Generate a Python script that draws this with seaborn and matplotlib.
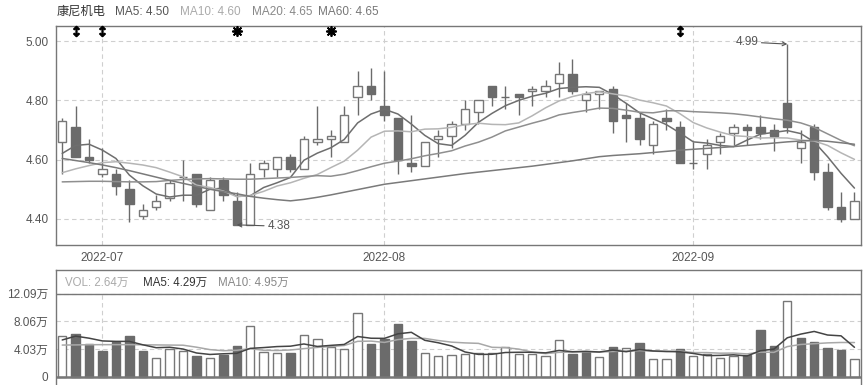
import numpy as np
import pandas as pd
import matplotlib
matplotlib.use('Agg')
import matplotlib.pyplot as plt
import seaborn as sns

stock_name = '康尼机电'
# trading days 2022-06-28 .. 2022-09-20 (Mid-Autumn holiday on 09-12)
dates = pd.bdate_range('2022-06-28', '2022-09-20').drop(pd.Timestamp('2022-09-12'))

open_ = [4.66, 4.71, 4.61, 4.55, 4.55, 4.50, 4.41, 4.44, 4.47, 4.54,
         4.55, 4.43, 4.53, 4.46, 4.38, 4.57, 4.57, 4.61, 4.57, 4.66,
         4.67, 4.66, 4.81, 4.85, 4.78, 4.74, 4.59, 4.58, 4.67, 4.68,
         4.72, 4.76, 4.85, 4.81, 4.82, 4.83, 4.83, 4.86, 4.89, 4.80,
         4.82, 4.84, 4.75, 4.74, 4.65, 4.74, 4.71, 4.59, 4.62, 4.66,
         4.69, 4.71, 4.71, 4.70, 4.79, 4.64, 4.71, 4.56, 4.44, 4.40]
high = [4.74, 4.78, 4.67, 4.64, 4.57, 4.53, 4.45, 4.48, 4.53, 4.60,
        4.55, 4.54, 4.54, 4.49, 4.59, 4.60, 4.61, 4.62, 4.68, 4.78,
        4.70, 4.78, 4.90, 4.91, 4.90, 4.74, 4.75, 4.66, 4.70, 4.73,
        4.80, 4.80, 4.85, 4.85, 4.82, 4.85, 4.87, 4.93, 4.94, 4.83,
        4.83, 4.85, 4.79, 4.76, 4.73, 4.77, 4.73, 4.66, 4.67, 4.69,
        4.72, 4.72, 4.75, 4.72, 4.99, 4.70, 4.72, 4.59, 4.49, 4.49]
low = [4.55, 4.61, 4.59, 4.54, 4.48, 4.39, 4.40, 4.43, 4.46, 4.46,
       4.44, 4.43, 4.46, 4.38, 4.38, 4.54, 4.54, 4.56, 4.57, 4.65,
       4.61, 4.66, 4.75, 4.80, 4.73, 4.55, 4.56, 4.58, 4.61, 4.64,
       4.70, 4.72, 4.78, 4.77, 4.75, 4.78, 4.81, 4.81, 4.82, 4.76,
       4.77, 4.69, 4.66, 4.65, 4.62, 4.70, 4.59, 4.57, 4.57, 4.62,
       4.65, 4.65, 4.67, 4.63, 4.69, 4.59, 4.53, 4.43, 4.39, 4.40]
close = [4.73, 4.61, 4.60, 4.57, 4.51, 4.45, 4.43, 4.46, 4.52, 4.54,
         4.45, 4.53, 4.48, 4.38, 4.55, 4.59, 4.61, 4.57, 4.67, 4.67,
         4.68, 4.75, 4.85, 4.82, 4.75, 4.60, 4.58, 4.66, 4.68, 4.72,
         4.77, 4.80, 4.81, 4.81, 4.81, 4.84, 4.85, 4.89, 4.83, 4.82,
         4.83, 4.73, 4.74, 4.67, 4.72, 4.73, 4.59, 4.59, 4.65, 4.68,
         4.71, 4.70, 4.69, 4.68, 4.71, 4.66, 4.56, 4.44, 4.40, 4.46]

ma5 = [4.621, 4.648, 4.652, 4.632, 4.604, 4.548, 4.512, 4.484, 4.474, 4.480,
       4.480, 4.500, 4.504, 4.476, 4.478, 4.506, 4.522, 4.540, 4.598, 4.622,
       4.640, 4.668, 4.724, 4.754, 4.770, 4.754, 4.720, 4.682, 4.654, 4.648,
       4.682, 4.726, 4.756, 4.782, 4.800, 4.814, 4.824, 4.840, 4.844, 4.846,
       4.844, 4.820, 4.790, 4.758, 4.738, 4.718, 4.690, 4.660, 4.656, 4.648,
       4.644, 4.666, 4.686, 4.692, 4.698, 4.688, 4.660, 4.610, 4.554, 4.504]
ma10 = [4.556, 4.569, 4.580, 4.590, 4.593, 4.588, 4.582, 4.573, 4.558, 4.542,
        4.514, 4.506, 4.494, 4.475, 4.479, 4.493, 4.511, 4.522, 4.537, 4.550,
        4.573, 4.595, 4.632, 4.676, 4.696, 4.697, 4.694, 4.703, 4.704, 4.709,
        4.718, 4.723, 4.719, 4.718, 4.724, 4.748, 4.775, 4.798, 4.813, 4.823,
        4.829, 4.822, 4.815, 4.801, 4.792, 4.781, 4.755, 4.725, 4.707, 4.693,
        4.681, 4.678, 4.673, 4.674, 4.673, 4.666, 4.663, 4.648, 4.623, 4.601]
ma20 = [4.525, 4.526, 4.527, 4.527, 4.526, 4.525, 4.525, 4.526, 4.530, 4.533,
        4.535, 4.536, 4.535, 4.534, 4.534, 4.536, 4.538, 4.540, 4.543, 4.546,
        4.544, 4.551, 4.563, 4.576, 4.588, 4.595, 4.603, 4.613, 4.621, 4.630,
        4.646, 4.659, 4.676, 4.697, 4.710, 4.723, 4.735, 4.751, 4.759, 4.766,
        4.774, 4.773, 4.767, 4.760, 4.758, 4.765, 4.765, 4.762, 4.760, 4.758,
        4.755, 4.750, 4.744, 4.738, 4.733, 4.724, 4.709, 4.687, 4.665, 4.647]
ma60 = [4.604, 4.597, 4.590, 4.582, 4.573, 4.563, 4.552, 4.541, 4.530, 4.520,
        4.510, 4.500, 4.492, 4.485, 4.476, 4.470, 4.465, 4.461, 4.466, 4.473,
        4.481, 4.490, 4.499, 4.508, 4.517, 4.523, 4.529, 4.535, 4.541, 4.547,
        4.553, 4.558, 4.563, 4.568, 4.573, 4.578, 4.584, 4.590, 4.596, 4.603,
        4.610, 4.614, 4.617, 4.620, 4.624, 4.628, 4.632, 4.635, 4.638, 4.641,
        4.644, 4.648, 4.652, 4.656, 4.660, 4.663, 4.665, 4.662, 4.657, 4.652]

# volume in 万
volume = [5.88, 6.21, 4.80, 3.74, 5.05, 5.88, 3.74, 2.67, 4.08, 3.74,
          3.01, 2.67, 3.16, 4.42, 7.33, 3.59, 3.40, 3.45, 6.02, 5.53,
          4.37, 4.08, 9.22, 4.76, 5.44, 7.67, 5.19, 3.40, 2.98, 3.11,
          3.30, 3.40, 3.50, 4.27, 3.30, 3.30, 2.96, 5.29, 3.30, 3.59,
          2.82, 4.32, 4.13, 4.90, 2.53, 2.53, 3.98, 2.96, 3.30, 2.72,
          2.96, 3.11, 6.79, 4.47, 10.97, 5.63, 5.05, 4.18, 3.88, 2.64]
vol_ma5 = [5.34, 5.90, 5.60, 5.20, 5.136, 5.136, 4.642, 4.216, 4.284, 4.022,
           3.448, 3.234, 3.332, 3.400, 4.118, 4.234, 4.380, 4.438, 4.758, 4.398,
           4.554, 4.690, 5.844, 5.592, 5.574, 6.234, 6.456, 5.292, 4.936, 4.470,
           3.596, 3.238, 3.258, 3.516, 3.554, 3.554, 3.466, 3.824, 3.630, 3.688,
           3.592, 3.864, 3.632, 3.952, 3.740, 3.682, 3.614, 3.380, 3.060, 3.098,
           3.184, 3.010, 3.776, 4.010, 5.660, 6.194, 6.582, 6.060, 5.942, 4.276]
vol_ma10 = [4.60, 4.62, 4.65, 4.66, 4.66, 4.66, 4.64, 4.62, 4.60, 4.579,
            4.292, 3.938, 3.774, 3.842, 4.070, 3.841, 3.807, 3.885, 4.079, 4.258,
            4.394, 4.535, 5.141, 5.175, 4.986, 5.394, 5.573, 5.568, 5.264, 5.022,
            4.915, 4.847, 4.275, 4.226, 4.012, 3.575, 3.352, 3.541, 3.573, 3.621,
            3.573, 3.665, 3.728, 3.791, 3.714, 3.637, 3.739, 3.506, 3.506, 3.419,
            3.433, 3.312, 3.578, 3.535, 4.379, 4.689, 4.796, 4.918, 4.976, 4.968]

arrow_events = [1, 3, 46]
star_events = [13, 20]

price_ticks = [4.40, 4.60, 4.80, 5.00]
vol_ticks = [0, 4.03, 8.06, 12.09]
vol_tick_labels = ['0', '4.03万', '8.06万', '12.09万']

price_header = [('MA5: 4.50', '#555555', 115), ('MA10: 4.60', '#aaaaaa', 180),
                ('MA20: 4.65', '#888888', 252), ('MA60: 4.65', '#777777', 318)]
vol_header = [('VOL: 2.64万', '#aaaaaa', 65), ('MA5: 4.29万', '#333333', 143),
              ('MA10: 4.95万', '#888888', 218)]

sns.set_theme(style='white')
plt.rcParams['font.family'] = ['Liberation Sans', 'Noto Sans CJK SC', 'DejaVu Sans']

n = len(close)
idx = np.arange(n)
df = pd.DataFrame({'i': idx, 'open': open_, 'high': high, 'low': low, 'close': close,
                   'ma5': ma5, 'ma10': ma10, 'ma20': ma20, 'ma60': ma60,
                   'vol': volume, 'vma5': vol_ma5, 'vma10': vol_ma10})
month_idx = [i for i in range(1, n) if dates[i].month != dates[i - 1].month]
month_lbl = [dates[i].strftime('%Y-%m') for i in month_idx]

W, H = 866, 385
fig = plt.figure(figsize=(W / 100, H / 100), dpi=100)
ax = fig.add_axes([55.5 / W, 1 - 245 / H, 805 / W, 219 / H])
axv = fig.add_axes([55.5 / W, 0, 805 / W, 115 / H])

dark = '#6b6b6b'
edge = '#777777'
grid_c = '#cfcfcf'

# candles
for r in df.itertuples():
    ax.vlines(r.i, r.low, r.high, color=dark, lw=1, zorder=2)
    up = r.close >= r.open
    if r.close == r.open:
        ax.hlines(r.close, r.i - 0.31, r.i + 0.31, color=dark, lw=1, zorder=3)
    else:
        ax.bar(r.i, abs(r.close - r.open), bottom=min(r.open, r.close), width=0.62,
               facecolor='white' if up else dark, edgecolor=edge if up else dark,
               lw=1, zorder=3)

line_cols = {'ma5': '#6e6e6e', 'ma10': '#b5b5b5', 'ma20': '#8f8f8f', 'ma60': '#7a7a7a'}
for col, c in line_cols.items():
    sns.lineplot(data=df, x='i', y=col, ax=ax, color=c, lw=1.1, zorder=4)

ax.set_xlim(-0.5, n - 0.55)
ax.set_ylim(4.312, 5.051)
ax.set_yticks(price_ticks)
ax.set_yticklabels([f'{t:.2f}' for t in price_ticks])
ax.set_xticks(month_idx)
ax.set_xticklabels(month_lbl)
ax.grid(True, ls=(0, (4, 3)), color=grid_c, lw=0.8)
ax.set_axisbelow(True)
ax.set_xlabel('')
ax.set_ylabel('')
ax.tick_params(length=0, labelsize=8.5, labelcolor='#555555', pad=5)
for s in ax.spines.values():
    s.set_color(edge)
    s.set_linewidth(1)

# event markers
ax.scatter(arrow_events, [5.034] * len(arrow_events), marker=r'$\updownarrow$',
           s=55, color='black', linewidths=0.8, zorder=6, clip_on=False)
ax.scatter(star_events, [5.034] * len(star_events), marker=(8, 2, 0),
           s=45, color='black', linewidths=1.3, zorder=6, clip_on=False)
ax.scatter(star_events, [5.034] * len(star_events), marker='o',
           s=10, color='black', zorder=6, clip_on=False)

# high / low annotations
imin = int(np.argmin(low))
imax = int(np.argmax(high))
ax.annotate(f'{low[imin]:.2f}', xy=(imin, low[imin]), xytext=(22, -1),
            textcoords='offset points', ha='left', va='center', fontsize=8.5,
            color='#555555',
            arrowprops=dict(arrowstyle='->', color='#555555', lw=0.8,
                            mutation_scale=7, shrinkA=0, shrinkB=0))
ax.annotate(f'{high[imax]:.2f}', xy=(imax, high[imax]), xytext=(-21, 1.5),
            textcoords='offset points', ha='right', va='center', fontsize=8.5,
            color='#555555',
            arrowprops=dict(arrowstyle='->', color='#555555', lw=0.8,
                            mutation_scale=7, shrinkA=0, shrinkB=0))

# volume panel
vol_up = [True] + [close[i] >= close[i - 1] for i in range(1, n)]
for i in range(n):
    axv.bar(i, volume[i], width=0.62, facecolor='white' if vol_up[i] else dark,
            edgecolor=edge if vol_up[i] else dark, lw=1, zorder=3)
sns.lineplot(data=df, x='i', y='vma10', ax=axv, color='#a8a8a8', lw=1.1, zorder=4)
sns.lineplot(data=df, x='i', y='vma5', ax=axv, color='#444444', lw=1.1, zorder=5)

axv.set_xlim(-0.5, n - 0.55)
axv.set_ylim(-1.21, 15.52)
axv.set_yticks(vol_ticks)
axv.set_yticklabels(vol_tick_labels)
axv.set_xticks([])
axv.grid(True, axis='y', ls=(0, (4, 3)), color=grid_c, lw=0.8)
axv.vlines(month_idx, 0, vol_ticks[-1], color=grid_c, lw=0.8, ls=(0, (4, 3)), zorder=1)
axv.axhline(vol_ticks[-1], color=edge, lw=1, zorder=2)
axv.axhline(0, color=edge, lw=1.8, zorder=6)
axv.set_axisbelow(True)
axv.set_xlabel('')
axv.set_ylabel('')
axv.tick_params(length=0, labelsize=8.5, labelcolor='#555555', pad=5)
for s in axv.spines.values():
    s.set_color(edge)
    s.set_linewidth(1)
axv.spines['bottom'].set_visible(False)

# headers
fig.text(57 / W, 1 - 12 / H, stock_name, color='#333333', fontsize=8.8, va='center')
for txt, c, x in price_header:
    fig.text(x / W, 1 - 12 / H, txt, color=c, fontsize=8.5, va='center')
for txt, c, x in vol_header:
    fig.text(x / W, 1 - 282.5 / H, txt, color=c, fontsize=8.3, va='center')

fig.savefig('out.png', dpi=100, facecolor='white')
